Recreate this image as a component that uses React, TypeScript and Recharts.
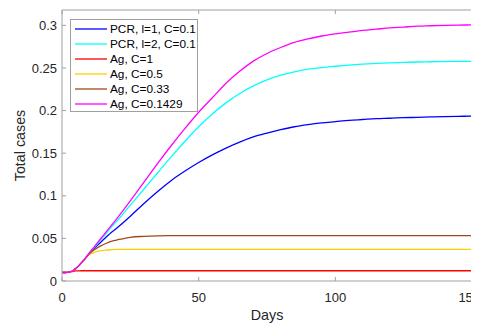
import React from 'react';
import { LineChart, Line, XAxis, YAxis, Legend } from 'recharts';

const days = [0, 1, 2, 3, 4, 5, 6, 7, 8, 9, 10, 12, 14, 16, 18, 20, 25, 30, 35, 40, 45, 50, 55, 60, 65, 70, 75, 80, 85, 90, 95, 100, 105, 110, 115, 120, 125, 130, 135, 140, 145, 150];

const pcrL1 = [0.01, 0.01, 0.0101, 0.0107, 0.012, 0.0145, 0.0175, 0.021, 0.0245, 0.0285, 0.0325, 0.039, 0.045, 0.051, 0.057, 0.062, 0.076, 0.091, 0.105, 0.118, 0.129, 0.139, 0.148, 0.156, 0.163, 0.169, 0.1735, 0.1775, 0.181, 0.1835, 0.1855, 0.187, 0.1885, 0.1895, 0.1905, 0.191, 0.1917, 0.192, 0.1925, 0.193, 0.1932, 0.1935];
const pcrL2 = [0.01, 0.01, 0.0101, 0.0107, 0.012, 0.0145, 0.0175, 0.021, 0.0245, 0.0285, 0.033, 0.04, 0.048, 0.055, 0.063, 0.07, 0.089, 0.108, 0.127, 0.146, 0.164, 0.181, 0.196, 0.209, 0.22, 0.229, 0.236, 0.2415, 0.2455, 0.2485, 0.2505, 0.252, 0.2533, 0.2545, 0.2553, 0.256, 0.2565, 0.257, 0.2573, 0.2575, 0.2577, 0.2578];
const agC1 = [0.01, 0.01, 0.0101, 0.0107, 0.0114, 0.0118, 0.0119, 0.012, 0.012, 0.012, 0.012, 0.012, 0.012, 0.012, 0.012, 0.012, 0.012, 0.012, 0.012, 0.012, 0.012, 0.012, 0.012, 0.012, 0.012, 0.012, 0.012, 0.012, 0.012, 0.012, 0.012, 0.012, 0.012, 0.012, 0.012, 0.012, 0.012, 0.012, 0.012, 0.012, 0.012, 0.012];
const agC05 = [0.01, 0.01, 0.0101, 0.0107, 0.012, 0.0145, 0.0175, 0.021, 0.0243, 0.028, 0.031, 0.0338, 0.0353, 0.0362, 0.0367, 0.037, 0.0372, 0.0372, 0.0372, 0.0372, 0.0372, 0.0372, 0.0372, 0.0372, 0.0372, 0.0372, 0.0372, 0.0372, 0.0372, 0.0372, 0.0372, 0.0372, 0.0372, 0.0372, 0.0372, 0.0372, 0.0372, 0.0372, 0.0372, 0.0372, 0.0372, 0.0372];
const agC033 = [0.01, 0.01, 0.0101, 0.0107, 0.012, 0.0145, 0.0175, 0.021, 0.0245, 0.0284, 0.032, 0.037, 0.041, 0.044, 0.0465, 0.048, 0.0513, 0.0524, 0.053, 0.0532, 0.0533, 0.0533, 0.0533, 0.0533, 0.0533, 0.0533, 0.0533, 0.0533, 0.0533, 0.0533, 0.0533, 0.0533, 0.0533, 0.0533, 0.0533, 0.0533, 0.0533, 0.0533, 0.0533, 0.0533, 0.0533, 0.0533];
const agC01429 = [0.01, 0.01, 0.0101, 0.0107, 0.012, 0.0145, 0.0175, 0.021, 0.0245, 0.0285, 0.033, 0.041, 0.049, 0.057, 0.065, 0.073, 0.094, 0.116, 0.138, 0.159, 0.179, 0.198, 0.215, 0.232, 0.246, 0.258, 0.267, 0.274, 0.28, 0.284, 0.2875, 0.29, 0.292, 0.294, 0.2955, 0.297, 0.298, 0.299, 0.2995, 0.3, 0.3003, 0.3005];

const xTicks = [0, 50, 100, 150];
const yTicks = [0, 0.05, 0.1, 0.15, 0.2, 0.25, 0.3];

const seriesInfo = [
  { key: 'pcrL1', name: 'PCR, l=1, C=0.1', color: '#0000ff', values: pcrL1 },
  { key: 'pcrL2', name: 'PCR, l=2, C=0.1', color: '#00ffff', values: pcrL2 },
  { key: 'agC1', name: 'Ag, C=1', color: '#ff0000', values: agC1 },
  { key: 'agC05', name: 'Ag, C=0.5', color: '#ffcc00', values: agC05 },
  { key: 'agC033', name: 'Ag, C=0.33', color: '#a0481c', values: agC033 },
  { key: 'agC01429', name: 'Ag, C=0.1429', color: '#ff00ff', values: agC01429 },
];

const data = days.map((d, i) => {
  const row: Record<string, number> = { day: d };
  seriesInfo.forEach((s) => {
    row[s.key] = s.values[i];
  });
  return row;
});

const FONT = '"Liberation Sans", Arial, Helvetica, sans-serif';
const AXIS_COLOR = '#a0a0a0';
const TEXT_COLOR = '#262626';

const LegendBox = () => (
  <div
    style={{
      width: 128,
      height: 93,
      boxSizing: 'border-box',
      border: `1px solid ${AXIS_COLOR}`,
      background: '#fff',
      paddingTop: 2,
      fontFamily: FONT,
      fontSize: 11.8,
      color: '#000',
    }}
  >
    {seriesInfo.map((s) => (
      <div key={s.key} style={{ height: 14.9, display: 'flex', alignItems: 'center', whiteSpace: 'nowrap' }}>
        <svg width={36} height={6} style={{ display: 'block', flex: 'none' }}>
          <line x1={4} y1={3} x2={36} y2={3} stroke={s.color} strokeWidth={1.3} />
        </svg>
        <span style={{ marginLeft: 3 }}>{s.name}</span>
      </div>
    ))}
  </div>
);

export default function App() {
  return (
    <LineChart
      width={471}
      height={316}
      data={data}
      margin={{ top: 1, right: 6, bottom: 3, left: 0 }}
      style={{ fontFamily: FONT }}
    >
      <XAxis
        xAxisId="bottom"
        dataKey="day"
        type="number"
        domain={[0, 150]}
        ticks={xTicks}
        orientation="bottom"
        height={40}
        tickSize={-4}
        tickMargin={16}
        stroke={AXIS_COLOR}
        tick={{ fill: TEXT_COLOR, fontSize: 13, fontFamily: FONT }}
        label={{ value: 'Days', position: 'insideBottom', offset: 1.5, fill: TEXT_COLOR, fontSize: 14.3, fontFamily: FONT }}
      />
      <XAxis
        xAxisId="top"
        dataKey="day"
        type="number"
        domain={[0, 150]}
        ticks={xTicks}
        orientation="top"
        height={1}
        tickSize={-4}
        stroke={AXIS_COLOR}
        tickFormatter={() => ''}
      />
      <YAxis
        yAxisId="left"
        type="number"
        domain={[0, 0.318]}
        ticks={yTicks}
        orientation="left"
        width={54}
        tickSize={-4}
        tickMargin={9}
        stroke={AXIS_COLOR}
        tick={{ fill: TEXT_COLOR, fontSize: 13, fontFamily: FONT }}
        label={{ value: 'Total cases', angle: -90, position: 'insideLeft', offset: 12, fill: TEXT_COLOR, fontSize: 14.3, fontFamily: FONT, style: { textAnchor: 'middle' } }}
      />
      <YAxis
        yAxisId="right"
        type="number"
        domain={[0, 0.318]}
        ticks={yTicks}
        orientation="right"
        width={1}
        tickSize={-4}
        stroke={AXIS_COLOR}
        tickFormatter={() => ''}
      />
      {seriesInfo.map((s) => (
        <Line
          key={s.key}
          xAxisId="bottom"
          yAxisId="left"
          type="monotone"
          dataKey={s.key}
          name={s.name}
          stroke={s.color}
          strokeWidth={1.3}
          dot={false}
          activeDot={false}
          isAnimationActive={false}
        />
      ))}
      <Legend
        layout="vertical"
        align="center"
        verticalAlign="middle"
        wrapperStyle={{ position: 'absolute', left: 62, top: 11, width: 128, height: 93 }}
        content={() => <LegendBox />}
      />
    </LineChart>
  );
}
